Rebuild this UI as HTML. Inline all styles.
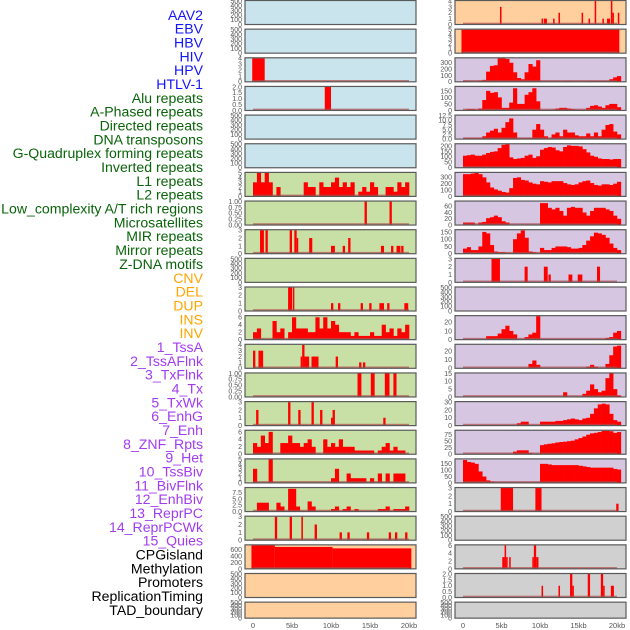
<!DOCTYPE html>
<html><head><meta charset="utf-8">
<style>
html,body{margin:0;padding:0;background:#fff;}
svg{display:block;font-family:"Liberation Sans",sans-serif;}
</style></head>
<body>
<svg id="chart" width="630" height="630" viewBox="0 0 630 630"></svg>
<script>
const trackLabels = ["AAV2","EBV","HBV","HIV","HPV","HTLV-1","Alu repeats","A-Phased repeats","Directed repeats","DNA transposons","G-Quadruplex forming repeats","Inverted repeats","L1 repeats","L2 repeats","Low_complexity A/T rich regions","Microsatellites","MIR repeats","Mirror repeats","Z-DNA motifs","CNV","DEL","DUP","INS","INV","1_TssA","2_TssAFlnk","3_TxFlnk","4_Tx","5_TxWk","6_EnhG","7_Enh","8_ZNF_Rpts","9_Het","10_TssBiv","11_BivFlnk","12_EnhBiv","13_ReprPC","14_ReprPCWk","15_Quies","CPGisland","Methylation","Promoters","ReplicationTiming","TAD_boundary"];
const labelGroups = [0,0,0,0,0,0,1,1,1,1,1,1,1,1,1,1,1,1,1,2,2,2,2,2,3,3,3,3,3,3,3,3,3,3,3,3,3,3,3,4,4,4,4,4];
const groupTextColors = ["#1414ff","#0a640a","#ffa500","#a23cf0","#000000"];
const groupBgColors = ["#c9e4ec","#c8e0a6","#ffd09e","#d6c6e2","#d0d0d0"];
const xTickValues = [0,5,10,15,20];
const xTickLabels = ["0","5kb","10kb","15kb","20kb"];

const E5 = ["0","100","200","300","400","500"];
const panelTickLabels = [
 E5,E5,["0","1","2","3","4"],["0.0","0.5","1.0","1.5","2.0"],E5,E5,
 ["0","1","2","3","4","5"],["0.00","0.25","0.50","0.75","1.00"],["0","1","2","3"],E5,["0","1","2","3"],["0","2","4","6"],
 ["0","1","2","3","4"],["0.00","0.25","0.50","0.75","1.00"],["0","1","2","3"],["0","2","4","6"],["0","1","2","3","4","5"],["0.0","2.5","5.0","7.5"],["0","1","2","3"],
 ["0","200","400","600"],E5,E5,
 ["0","1","2","3","4"],["0","1","2","3","4","5"],["0","100","200","300"],["0","50","100","150"],["0.0","2.5","5.0","7.5","10.0","12.5"],["0","50","100","150","200"],["0","100","200","300"],["0","20","40","60"],["0","50","100","150"],["0","1","2","3"],E5,["0","10","20"],["0","10","20"],["0","5","10","15"],["0","10","20","30"],["0","25","50","75"],["0","50","100","150"],
 ["0","1","2","3"],E5,["0","2","4","6"],["0.0","0.5","1.0","1.5","2.0"],E5
];
const panelYMax = [500,500,4,2,500,500, 5,1,3,500,3,6.3, 4,1,3,6.3,5,9.3,3, 740,500,500,
 4,5,370,180,12.5,215,370,75,162,3,500,27,27,15,30,90,185, 3,500,6,2,500];

// binned values: bin i covers [i*0.5kb, (i+1)*0.5kb]
const panelBins = [];
panelBins[6]  = [3,5,3,5,3,0,2,0,0,0,0,0,0,3,2,2,0,3,2,2,3,4,2,3,2,3,0,1,2,1,3,2,0,0,2,2,1,3,2,3];
panelBins[11] = [2,3,0,0,0,5,2,3,0,2,6,3,3,3,2,2,6,3,6,3,5,4,2,2,2,1,2,1,1,1,2,1,1,4,2,3,1,3,2,4];
panelBins[15] = [3,2,5,3,6,0,0,3,3,5,3,3,2,3,4,2,0,0,4,2,3,2,4,2,2,2,1,1,1,1,1,0,1,2,3,1,2,1,1,0];
panelBins[16] = [3,0,0,0,5,0,0,0,0,0,0,0,0,0,0,0,0,0,0,0,1,3,0,0,2,1,1,1,1,0,1,0,2,0,2,0,2,2,2,0];
panelBins[17] = [0,3.5,3.5,3.5,0,0,3.5,2,0,9,9,2,0,0,4,2,0,0,0,0,1,2,0,1,2,0,1,0,0,0,0,0,1,1,2,0,1,1,1,2];
panelBins[24] = [15,10,0,0,15,30,160,250,260,370,370,360,300,150,60,40,150,280,240,340,0,0,0,0,0,0,10,10,0,0,0,0,10,10,10,10,10,10,40,70,90];
panelBins[25] = [0,10,10,5,15,80,150,135,140,100,20,20,60,170,50,50,120,140,170,70,0,0,0,5,15,20,20,15,10,5,5,5,20,35,40,30,20,40,50,50,25];
panelBins[26] = [0.5,0.5,0.5,0.5,0.5,1.5,3.5,4.5,5.5,3.5,6,9,11,3.5,0.5,0.5,0.5,0.5,5,8,5,1.5,0.5,2.5,3.5,1.5,5,3.5,3.5,2,1.5,1.5,3,1.5,3.5,1.5,5,7.5,8,4,2.5];
panelBins[27] = [110,115,120,110,110,120,135,145,150,180,210,215,95,80,85,90,110,120,90,105,165,180,190,185,160,150,190,205,200,200,195,170,140,110,100,85,80,80,75,80,80];
panelBins[28] = [350,350,360,370,350,300,220,140,110,90,70,60,130,290,300,260,250,220,200,190,240,230,220,240,240,240,210,190,180,190,220,240,250,210,180,170,190,190,180,200,230];
panelBins[29] = [8,8,8,0,8,10,22,25,30,25,12,8,0,0,0,0,0,0,0,0,70,70,55,50,55,45,30,55,58,55,55,40,30,45,55,55,55,50,45,30,20];
panelBins[30] = [35,45,25,25,50,150,140,60,15,10,10,5,0,100,140,160,110,15,10,0,40,25,25,40,50,50,50,45,35,35,40,60,90,120,145,140,130,110,70,40,25];
panelBins[33] = [0,0,0,0,0,0,4,4,4,7,12,16,10,6,0,0,3,6,8,27,0,0,0,0,0,0,0,0,0,0,0,0,0,0,0,0,0,2,3,8,10];
panelBins[34] = [0,0,0,0,0,0,0,0,0,0,0,0,0,0,0,0,0,5,9,4,0,0,0,0,0,0,0,0,0,0,0,0,2,4,2,0,0,5,15,25,26];
panelBins[35] = [0,0,0,0,0,0,0,0,0,0,0,0,0,0,0,0,0,0,0,0,0,0,0,0,0,0,3,0,0,0,0,2,4,8,5,3,4,12,15,5,1];
panelBins[36] = [0,0,0,0,0,0,0,0,0,0,0,0,0,0,3,5,5,0,0,0,5,5,5,5,6,6,7,8,9,8,7,9,10,15,22,27,28,27,15,7,5];
panelBins[37] = [0,0,0,0,0,0,0,0,0,0,0,0,0,10,15,15,15,5,0,0,35,38,40,42,45,47,48,50,52,57,62,68,75,80,82,85,90,90,88,82,85];
panelBins[38] = [180,165,160,150,90,50,20,10,5,5,5,5,5,5,5,5,5,5,5,5,150,150,145,140,140,140,140,140,140,140,135,130,125,120,120,120,120,120,120,110,105];

// sparse segments (kb start, kb end, value)
const segStarts = [], segEnds = [], segValues = [];
function seg(i, starts, ends, vals){ segStarts[i]=starts; segEnds[i]=ends; segValues[i]=vals; }
seg(2,[-0.1],[1.5],[4]);
seg(3,[9.2],[10.0],[2]);
seg(7,[14.3,17.5],[14.6,17.8],[1,1]);
seg(8,[0.9,1.6,4.7,5.3,5.6,7.2,10.0,11.5,12.2,16.4,17.7,18.4,19.0],[1.4,1.9,5.0,5.6,5.8,7.6,10.5,11.8,12.5,16.8,18.0,18.9,19.3],[3,3,3,3,2,2,1,1,2,1,1,1,1]);
seg(10,[4.5,5.1,10.0,10.9,13.8,14.9,16.2,17.2,19.4],[5.0,5.3,10.3,11.2,14.1,15.2,16.8,17.5,19.9],[3,3,1,1,1,1,1,1,1]);
seg(12,[0,0.7,6.1,6.3,6.6,7.5,10.6,13.6,14.1],[0.3,1.3,6.3,6.6,7.2,8.4,10.9,13.9,14.4],[3,3,2,4,2,2,2,1,1]);
seg(13,[13.4,15.1,16.9,18.0],[13.9,15.6,17.5,18.4],[1,1,1,1]);
seg(14,[0.4,4.5,5.8,7.5,8.6,10.0,10.2,16.7],[0.7,4.8,6.1,7.8,8.9,10.2,10.5,17.0],[2,3,2,3,2,1,2,1]);
seg(18,[2.8,4.7,6.2,7.9,11.1,12.1,14.6,17.4,18.2,19.5],[3.1,5.0,6.4,8.2,11.4,12.4,14.9,17.7,18.5,19.8],[3,3,3,2,1,1,1,1,1,1]);
seg(19,[-0.2,2.8,10.2],[2.8,10.2,20.3],[735,690,645]);
seg(22,[4.8,10.2,10.5,11.7,12.4,15.4,16.3,17.1,18.1,18.7,19.2,19.4,20.1],[5.0,10.4,10.9,11.9,12.6,15.6,16.5,17.3,18.3,19.1,19.4,19.6,20.3],[3,1,1,1,2,2,1,4,1,1,4,2,2]);
seg(23,[-0.2],[20.3],[5]);
seg(31,[3.7,8.0,10.5,11.1,13.7,14.9,17.4],[4.8,8.4,11.0,11.4,14.2,15.5,17.8],[3,2,2,1,1,1,2]);
seg(39,[4.9,9.4,19.9],[6.5,10.2,20.2],[3,3,1]);
seg(41,[5.1,5.4,5.6,6.0,9.0,9.2,9.5],[5.4,5.6,5.8,6.2,9.2,9.5,9.8],[3,6,3,3,3,6,3]);
seg(42,[10.2,12.4,13.9,14.2,16.2,17.9,18.2,19.2],[10.4,12.6,14.2,14.4,16.5,18.2,18.4,19.6],[1,1,2,1,2,2,1,1]);

const NS='http://www.w3.org/2000/svg';
const svg=document.getElementById('chart');
function mk(tag, attrs, parent){ const e=document.createElementNS(NS,tag); for(const k in attrs) e.setAttribute(k,attrs[k]); (parent||svg).appendChild(e); return e; }

// labels
trackLabels.forEach((t,i)=>{
  const e=mk('text',{x:203,y:15+i*13.84+4.8,'text-anchor':'end','font-size':'14.1',fill:groupTextColors[labelGroups[i]]});
  e.textContent=t;
  
  
});

const cols=[{left:245,right:416,x0:253,kpx:7.8},{left:455,right:626,x0:463,kpx:7.7}];
for(let p=0;p<44;p++){
  const col=cols[p<22?0:1]; const row=p%22;
  const top=row*28.65+0.5; const h=(row===21)?16:24;
  const bottom=top+h;
  const xs=kb=>col.x0+kb*col.kpx;
  const ys=v=>bottom-Math.min(v,panelYMax[p])/panelYMax[p]*(h-0.5);
  const g=mk('g',{});
  
  
  const bg=mk('rect',{x:col.left,y:top,width:col.right-col.left,height:h,fill:groupBgColors[labelGroups[p]],stroke:'none'},g);
  
  
  let hasData=false;
  const bins=panelBins[p];
  if(bins){
    hasData=true;
    bins.forEach((v,i)=>{ if(v<=0) return;
      const b=mk('rect',{x:xs(i*0.5),y:ys(v),width:xs(i*0.5+0.5)-xs(i*0.5)+0.3,height:bottom-ys(v),fill:'#ff0000'},g);
      
      
    });
  }
  if(segStarts[p]){
    hasData=true;
    segStarts[p].forEach((s,i)=>{
      const v=segValues[p][i];
      const b=mk('rect',{x:xs(s),y:ys(v),width:Math.max(1.5,xs(segEnds[p][i])-xs(s)),height:bottom-ys(v),fill:'#ff0000'},g);
      
      
    });
  }
  if(hasData){
    const bl=mk('rect',{x:xs(0),y:bottom-1.8,width:xs(20)-xs(0),height:1.8,fill:'#b04848','fill-opacity':'0.7'},g);
    
    
  }
  const fr=mk('rect',{x:col.left,y:top,width:col.right-col.left,height:h,fill:'none',stroke:'#5a5a5a','stroke-width':'1.2'},g);
  
  
  panelTickLabels[p].forEach(lab=>{
    const v=parseFloat(lab);
    const t=mk('text',{x:col.left-3,y:ys(v)+2.4,'text-anchor':'end','font-size':'7',fill:'#555'},g);
    t.textContent=lab;
    
    
  });
}
// x axes
cols.forEach((col,ci)=>{
  xTickValues.forEach((v,i)=>{
    const t=mk('text',{x:col.x0+v*col.kpx,y:628,'text-anchor':'middle','font-size':'7.5',fill:'#555'});
    t.textContent=xTickLabels[i];
    
    
  });
});
</script>
</body></html>
